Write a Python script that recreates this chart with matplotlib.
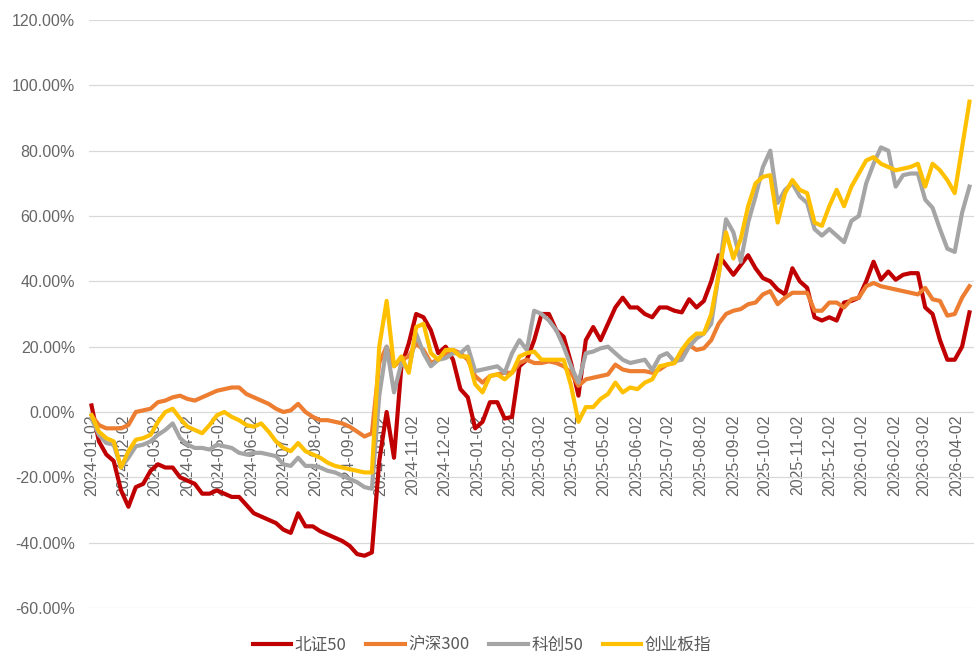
import pandas as pd
import matplotlib
matplotlib.use('Agg')
import matplotlib.pyplot as plt
from matplotlib.ticker import FuncFormatter

plt.rcParams['font.family'] = ['Liberation Sans', 'Noto Sans CJK SC']

# weekly samples (cumulative return, %)
dates = pd.date_range('2024-01-02', periods=120, freq='7D')

bz50 = [2, -9, -13, -15, -24, -29, -23, -22, -18, -16,
        -17, -17, -20, -21, -22, -25, -25, -24, -25, -26,
        -26, -28.5, -31, -32, -33, -34, -36, -37, -31, -35,
        -35, -36.5, -37.5, -38.5, -39.5, -41, -43.5, -44, -43, -15,
        0, -14, 14, 21, 30, 29, 25, 18, 20, 16,
        7, 4.5, -5, -3, 3, 3, -2, -1.5, 14, 16,
        22, 30, 30, 25, 23, 15, 5, 22, 26, 22,
        27, 32, 35, 32, 32, 30, 29, 32, 32, 31,
        30.5, 34.5, 32, 34, 40, 48, 45, 42, 45, 48,
        44, 41, 40, 37.5, 36, 44, 40, 38, 29, 28,
        29, 28, 33.5, 34, 35, 40, 46, 40.5, 43, 40.5,
        42, 42.5, 42.5, 32, 30, 22, 16, 16, 20, 30.5]

hs300 = [-1, -4, -5, -5, -5, -4, 0, 0.5, 1, 3,
         3.5, 4.5, 5, 4, 3.5, 4.5, 5.5, 6.5, 7, 7.5,
         7.5, 5.5, 4.5, 3.5, 2.5, 1, 0, 0.5, 2.5, 0,
         -1.5, -2.5, -2.5, -3, -3.5, -4.5, -6, -7.5, -6.5, 15,
         20, 14, 16, 17, 21, 19, 15, 16, 18, 19,
         18, 16, 11, 9, 11, 11.5, 12, 12, 15, 16,
         15, 15, 15.5, 15, 14, 12, 8, 10, 10.5, 11,
         11.5, 14.5, 13, 12.5, 12.5, 12.5, 12, 13, 14.5, 15,
         18, 20.5, 19, 19.5, 22, 27, 30, 31, 31.5, 33,
         33.5, 36, 37, 33, 35, 36.5, 36.5, 36.5, 31, 31,
         33.5, 33.5, 32, 34.5, 35, 38.5, 39.5, 38.5, 38, 37.5,
         37, 36.5, 36, 38, 34.5, 34, 29.5, 30, 35, 38.5]

kc50 = [-2, -7, -9.5, -10, -17, -14, -10.5, -10, -9, -7,
        -5.5, -3.5, -8, -10, -11, -11, -11.5, -10, -10.5, -11,
        -12.5, -13, -12.5, -12.5, -13, -13.5, -16, -16.5, -14, -16.5,
        -16.5, -17, -18, -18.5, -19.5, -20.5, -21.5, -23, -23.5, 5,
        20, 6, 15, 13, 24, 18, 14, 16, 16.5, 18,
        18, 20, 12.5, 13, 13.5, 14, 12, 18, 22, 19,
        31, 30, 28, 25, 20, 14, 9, 18, 18.5, 19.5,
        20, 18, 16, 15, 15.5, 16, 12.8, 17, 18, 15.5,
        16, 20, 22.5, 24, 27, 42, 59, 55, 46, 58,
        66, 75, 80, 64, 68, 70, 66, 64, 56, 54,
        56, 54, 52, 58.5, 60, 70, 76, 81, 80, 69,
        72.5, 73, 73, 65, 62.5, 56, 50, 49, 61, 69]

cybz = [-1, -6, -8, -9, -17, -12, -8.5, -8, -7, -3,
        0, 1, -2, -4.5, -5.5, -6.5, -4, -1, 0, -1.5,
        -2.5, -4, -4.5, -3.5, -6, -9, -11, -12, -9.5, -12,
        -13, -14, -15.5, -16.5, -17, -17.5, -18, -18.5, -18.5, 20,
        34, 14, 17, 12, 26, 27, 18, 16, 19, 19,
        17, 17, 8.5, 6, 11, 11.5, 10, 12, 17, 18,
        18.5, 16, 16, 16, 16, 8, -3, 1.5, 1.5, 4,
        5.5, 9, 6, 7.5, 7, 9, 10, 14, 14.5, 15,
        19, 22, 24, 24, 30, 42, 55, 47, 53, 63,
        70, 72, 72.5, 58, 67, 71, 68, 67, 58, 57,
        63, 68, 63, 69, 73, 77, 78, 76, 75, 74,
        74.5, 75, 76, 69, 76, 74, 71, 67, 81, 95]

names = ['北证50', '沪深300', '科创50', '创业板指']
colors = ['#C00000', '#ED7D31', '#A5A5A5', '#FFC000']

tick_dates = pd.date_range('2024-01-01', '2026-04-01', freq='MS') + pd.Timedelta(days=1)

fig = plt.figure(figsize=(9.74, 6.59), dpi=100)
ax = fig.add_axes([89 / 974, 1 - 608 / 659, 885 / 974, 588 / 659])

for name, vals, c in zip(names, [bz50, hs300, kc50, cybz], colors):
    ax.plot(dates, vals, color=c, lw=3.0, label=name, solid_joinstyle='round')

start = pd.Timestamp('2024-01-02')
ax.set_xlim(start - pd.Timedelta(days=2.4), start + pd.Timedelta(days=837.3))
ax.set_ylim(-60, 120)
ax.set_yticks(range(-60, 121, 20))
ax.yaxis.set_major_formatter(FuncFormatter(lambda v, p: f'{v:.2f}%'))
ax.grid(axis='y', color='#d9d9d9', lw=0.9)
ax.set_axisbelow(True)
for s in ax.spines.values():
    s.set_visible(False)
ax.spines['bottom'].set_position(('data', 0))

ax.set_xticks(tick_dates)
ax.set_xticklabels([d.strftime('%Y-%m-%d') for d in tick_dates], rotation=90)
ax.tick_params(axis='both', length=0, labelsize=11.5, labelcolor='#666666')
ax.tick_params(axis='x', pad=2)
ax.tick_params(axis='y', pad=10)

fig.legend(loc='center', bbox_to_anchor=(482 / 974, 1 - 645 / 659), ncol=4,
           frameon=False, prop={'family': ['Noto Sans CJK SC', 'DejaVu Sans'], 'size': 12},
           handlelength=2.3, handletextpad=0.2, columnspacing=1.2, labelcolor='#595959')

fig.savefig('out.png', dpi=100)
